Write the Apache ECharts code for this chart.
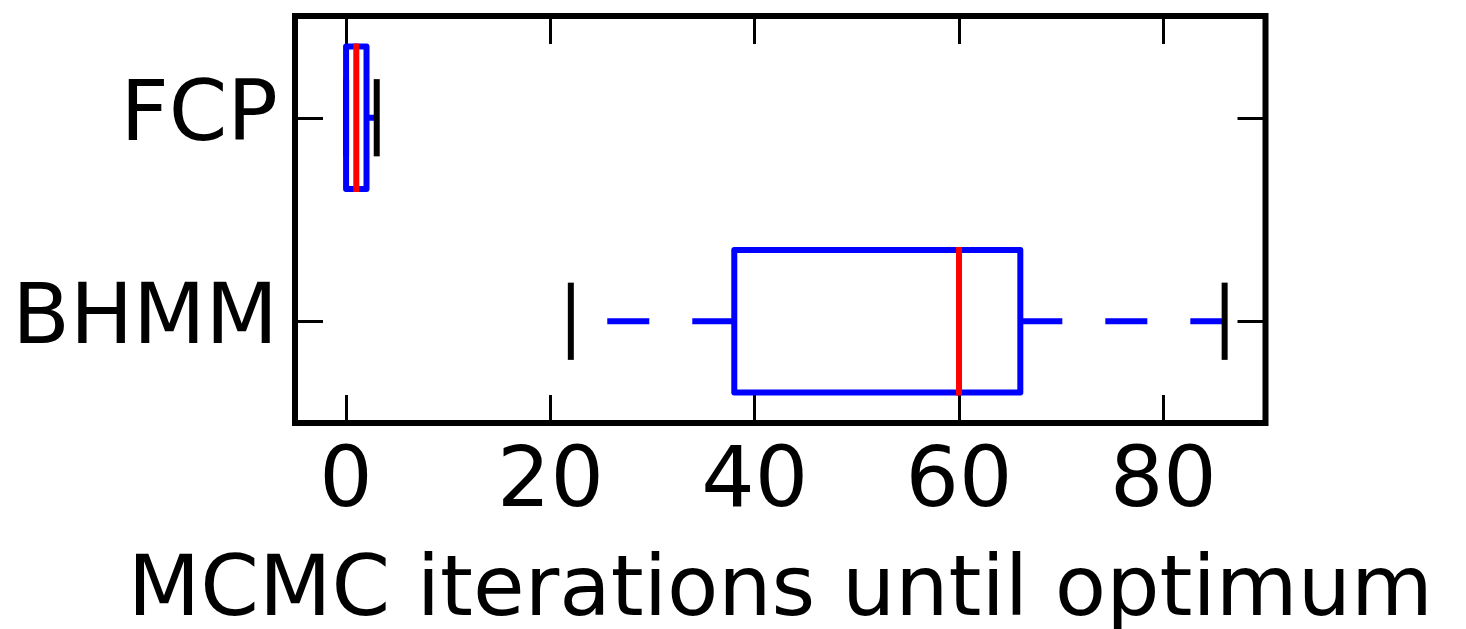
<!DOCTYPE html>
<html>
<head>
<meta charset="utf-8">
<script src="https://cdn.jsdelivr.net/npm/echarts@6/dist/echarts.min.js"></script>
<style>
html,body{margin:0;padding:0;background:#fff;}
#chart{width:1466px;height:629px;}
</style>
</head>
<body>
<div id="chart"></div>
<script>
// Data (categories bottom -> top)
var categories = ['BHMM', 'FCP'];
var whiskerLow = [22, 0];
var q1 = [38, 0];
var median = [60, 1];
var q3 = [66, 2];
var whiskerHigh = [86, 3];
var xTicks = [0, 20, 40, 60, 80];
var xAxisName = 'MCMC iterations until optimum';

var FONT = 'DejaVu Sans';
var FS = 84;

var rows = categories.map(function (c, i) {
  return [i, whiskerLow[i], q1[i], median[i], q3[i], whiskerHigh[i]];
});

function renderItem(params, api) {
  var ci = api.value(0);
  var lo = api.value(1), a = api.value(2), m = api.value(3), b = api.value(4), hi = api.value(5);
  var band = api.size([0, 1])[1];
  var boxH = band * 0.7;
  var capH = band * 0.35;
  var pLo = api.coord([lo, ci]);
  var pA = api.coord([a, ci]);
  var pM = api.coord([m, ci]);
  var pB = api.coord([b, ci]);
  var pHi = api.coord([hi, ci]);
  var yc = pA[1];
  var blue = '#0000ff', red = '#ff0000', black = '#000000';
  var children = [];
  // whiskers (dashed, drawn outward from box)
  children.push({type: 'line', shape: {x1: pA[0], y1: yc, x2: pLo[0], y2: yc},
    style: {stroke: blue, lineWidth: 6, lineDash: [42, 43], lineCap: 'butt'}});
  children.push({type: 'line', shape: {x1: pB[0], y1: yc, x2: pHi[0], y2: yc},
    style: {stroke: blue, lineWidth: 6, lineDash: [42, 43], lineCap: 'butt'}});
  // caps
  children.push({type: 'line', shape: {x1: pLo[0], y1: yc - capH / 2, x2: pLo[0], y2: yc + capH / 2},
    style: {stroke: black, lineWidth: 6, lineCap: 'square'}});
  children.push({type: 'line', shape: {x1: pHi[0], y1: yc - capH / 2, x2: pHi[0], y2: yc + capH / 2},
    style: {stroke: black, lineWidth: 6, lineCap: 'square'}});
  // box
  children.push({type: 'rect', shape: {x: pA[0], y: yc - boxH / 2, width: pB[0] - pA[0], height: boxH},
    style: {stroke: blue, fill: null, lineWidth: 6, lineJoin: 'round'}});
  // median
  children.push({type: 'line', shape: {x1: pM[0], y1: yc - boxH / 2, x2: pM[0], y2: yc + boxH / 2},
    style: {stroke: red, lineWidth: 6, lineCap: 'square'}});
  return {type: 'group', children: children};
}

var chart = echarts.init(document.getElementById('chart'), null, {renderer: 'canvas'});
var tickStyle = {show: true, inside: true, length: 28, lineStyle: {color: '#000', width: 3}};
chart.setOption({
  animation: false,
  backgroundColor: '#ffffff',
  textStyle: {fontFamily: FONT},
  grid: {left: 295, right: 200.5, top: 16, bottom: 206, containLabel: false, outerBoundsMode: 'none',
    show: true, borderColor: '#000', borderWidth: 6, backgroundColor: 'transparent'},
  xAxis: [{
    type: 'value', position: 'bottom', min: -5, max: 90,
    axisLine: {show: false, onZero: false},
    axisTick: Object.assign({customValues: xTicks}, tickStyle),
    axisLabel: {customValues: xTicks, fontFamily: FONT, fontSize: FS, color: '#000', margin: 19},
    splitLine: {show: false},
    name: xAxisName, nameLocation: 'middle', nameGap: 128,
    nameTextStyle: {fontFamily: FONT, fontSize: FS, color: '#000'}
  }, {
    type: 'value', position: 'top', min: -5, max: 90,
    axisLine: {show: false, onZero: false},
    axisTick: Object.assign({customValues: xTicks}, tickStyle),
    axisLabel: {show: false},
    splitLine: {show: false}
  }],
  yAxis: [{
    type: 'category', position: 'left', data: categories,
    axisLine: {show: false, onZero: false},
    axisTick: Object.assign({alignWithLabel: true}, tickStyle),
    axisLabel: {fontFamily: FONT, fontSize: FS, color: '#000', margin: 17},
    splitLine: {show: false}
  }, {
    type: 'category', position: 'right', data: categories,
    axisLine: {show: false, onZero: false},
    axisTick: Object.assign({alignWithLabel: true}, tickStyle),
    axisLabel: {show: false},
    splitLine: {show: false}
  }],
  series: [{
    type: 'custom',
    xAxisIndex: 0, yAxisIndex: 0,
    renderItem: renderItem,
    encode: {x: [1, 2, 3, 4, 5], y: 0},
    data: rows,
    clip: false
  }]
});
</script>
</body>
</html>
